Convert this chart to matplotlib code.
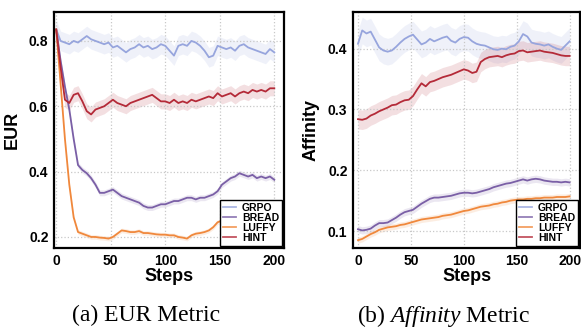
#!/usr/bin/env python3

import numpy as np
import matplotlib
matplotlib.use("Agg")
import matplotlib.pyplot as plt

plt.rcParams['font.family'] = ['Liberation Sans', 'DejaVu Sans']
plt.rcParams['mathtext.fontset'] = 'custom'
plt.rcParams['mathtext.it'] = 'Liberation Serif:italic'
plt.rcParams['mathtext.rm'] = 'Liberation Serif'

# training steps, every 4 steps
steps = list(range(0, 201, 4))
methods = ['GRPO', 'BREAD', 'LUFFY', 'HINT']

# (a) EUR metric
eur_grpo = [0.835, 0.80, 0.795, 0.79, 0.80, 0.795, 0.805, 0.815, 0.805, 0.80,
            0.795, 0.79, 0.795, 0.78, 0.785, 0.775, 0.765, 0.775, 0.78, 0.79,
            0.78, 0.785, 0.775, 0.78, 0.79, 0.785, 0.77, 0.755, 0.785, 0.79,
            0.785, 0.80, 0.795, 0.785, 0.77, 0.75, 0.755, 0.785, 0.78, 0.775,
            0.78, 0.77, 0.785, 0.79, 0.78, 0.775, 0.77, 0.765, 0.76, 0.775, 0.765]
eur_bread = [0.835, 0.74, 0.66, 0.59, 0.50, 0.42, 0.405, 0.395, 0.38, 0.36,
             0.335, 0.335, 0.34, 0.345, 0.335, 0.325, 0.32, 0.315, 0.31, 0.305,
             0.295, 0.29, 0.29, 0.295, 0.30, 0.30, 0.305, 0.31, 0.31, 0.315,
             0.32, 0.32, 0.315, 0.32, 0.32, 0.325, 0.33, 0.34, 0.36, 0.37,
             0.38, 0.385, 0.395, 0.39, 0.385, 0.39, 0.38, 0.385, 0.38, 0.385, 0.375]
eur_luffy = [0.835, 0.67, 0.50, 0.36, 0.26, 0.215, 0.21, 0.205, 0.20, 0.20,
             0.198, 0.197, 0.195, 0.20, 0.21, 0.22, 0.218, 0.215, 0.215, 0.218,
             0.212, 0.212, 0.21, 0.208, 0.207, 0.207, 0.205, 0.205, 0.20, 0.198,
             0.195, 0.205, 0.21, 0.212, 0.215, 0.22, 0.23, 0.245, 0.25, 0.255,
             0.255, 0.26, 0.26, 0.262, 0.265, 0.265, 0.268, 0.268, 0.27, 0.27, 0.272]
eur_hint = [0.835, 0.72, 0.62, 0.61, 0.635, 0.64, 0.615, 0.585, 0.575, 0.59,
            0.595, 0.60, 0.61, 0.62, 0.61, 0.605, 0.60, 0.61, 0.615, 0.62,
            0.625, 0.63, 0.635, 0.625, 0.615, 0.615, 0.61, 0.62, 0.61, 0.615,
            0.61, 0.62, 0.615, 0.62, 0.625, 0.63, 0.625, 0.64, 0.63, 0.635,
            0.64, 0.63, 0.64, 0.645, 0.64, 0.65, 0.645, 0.65, 0.645, 0.655, 0.655]
eur_spread = [0.03, 0.009, 0.007, 0.023]

# (b) Affinity metric
aff_grpo = [0.408, 0.43, 0.425, 0.428, 0.415, 0.402, 0.397, 0.395, 0.397, 0.403,
            0.41, 0.416, 0.42, 0.423, 0.415, 0.407, 0.41, 0.416, 0.412, 0.415,
            0.418, 0.42, 0.413, 0.41, 0.416, 0.419, 0.418, 0.412, 0.408, 0.406,
            0.405, 0.402, 0.399, 0.398, 0.40, 0.399, 0.403, 0.405, 0.412, 0.424,
            0.42, 0.41, 0.408, 0.407, 0.405, 0.407, 0.403, 0.40, 0.398, 0.405, 0.412]
aff_bread = [0.103, 0.101, 0.102, 0.104, 0.109, 0.113, 0.113, 0.114, 0.118, 0.122,
             0.127, 0.131, 0.133, 0.135, 0.140, 0.145, 0.149, 0.153, 0.155, 0.155,
             0.156, 0.157, 0.158, 0.160, 0.162, 0.163, 0.163, 0.162, 0.163, 0.165,
             0.167, 0.169, 0.172, 0.174, 0.176, 0.178, 0.179, 0.181, 0.183, 0.185,
             0.183, 0.185, 0.186, 0.185, 0.183, 0.182, 0.181, 0.181, 0.180, 0.181, 0.180]
aff_luffy = [0.085, 0.087, 0.091, 0.095, 0.098, 0.102, 0.104, 0.106, 0.107, 0.108,
             0.110, 0.111, 0.113, 0.115, 0.117, 0.119, 0.120, 0.121, 0.122, 0.123,
             0.125, 0.126, 0.127, 0.129, 0.131, 0.133, 0.134, 0.136, 0.138, 0.140,
             0.141, 0.142, 0.144, 0.145, 0.147, 0.148, 0.150, 0.151, 0.152, 0.152,
             0.153, 0.153, 0.154, 0.154, 0.155, 0.155, 0.155, 0.156, 0.156, 0.156, 0.157]
aff_hint = [0.284, 0.283, 0.285, 0.29, 0.293, 0.297, 0.30, 0.303, 0.307, 0.308,
            0.312, 0.315, 0.316, 0.322, 0.333, 0.343, 0.338, 0.345, 0.347, 0.35,
            0.353, 0.355, 0.357, 0.36, 0.363, 0.366, 0.364, 0.36, 0.362, 0.378,
            0.383, 0.386, 0.387, 0.388, 0.386, 0.389, 0.391, 0.392, 0.396, 0.397,
            0.394, 0.395, 0.396, 0.397, 0.395, 0.394, 0.393, 0.391, 0.389, 0.388, 0.388]
aff_spread = [0.022, 0.006, 0.005, 0.016]

colors = ['#97a5dd', '#7a5fa6', '#f0883c', '#b42a38']


def draw_panel(ax, series, spread, ylabel, ylim, yticks, xlim):
    x = np.array(steps)
    for name, vals, sd, c in zip(methods, series, spread, colors):
        vals = np.array(vals)
        ax.fill_between(x, vals - sd, vals + sd, color=c, alpha=0.15, lw=0)
        ax.plot(x, vals, color=c, lw=1.3, label=name)
    ax.set_xlim(*xlim)
    ax.set_ylim(*ylim)
    ax.set_xticks([0, 50, 100, 150, 200])
    ax.set_yticks(yticks)
    ax.set_yticklabels([f'{t:.1f}' for t in yticks])
    ax.grid(True, ls=':', color='#c8c8c8', lw=0.9)
    ax.tick_params(length=0, pad=4, labelsize=10)
    for lab in ax.get_xticklabels() + ax.get_yticklabels():
        lab.set_fontweight('bold')
    for sp in ax.spines.values():
        sp.set_linewidth(1.6)
        sp.set_color('black')
    ax.set_xlabel('Steps', fontsize=13, fontweight='bold', labelpad=0)
    ax.set_ylabel(ylabel, fontsize=13, fontweight='bold', labelpad=6)
    leg = ax.legend(loc='lower right', prop={'weight': 'bold', 'size': 7.5},
                    handlelength=1.2, handletextpad=0.6, labelspacing=0.0,
                    borderpad=0.3, borderaxespad=0.2, fancybox=False,
                    edgecolor='black', framealpha=1.0)
    leg.get_frame().set_linewidth(1.0)
    for h in leg.get_lines():
        h.set_alpha(0.8)


fig = plt.figure(figsize=(5.81, 3.29), dpi=100)
ax1 = fig.add_axes([0.093, 0.246, 0.396, 0.717])
ax2 = fig.add_axes([0.6076, 0.246, 0.391, 0.717])

draw_panel(ax1, [eur_grpo, eur_bread, eur_luffy, eur_hint], eur_spread,
           'EUR', (0.166, 0.888), [0.2, 0.4, 0.6, 0.8], (-2, 209))
draw_panel(ax2, [aff_grpo, aff_bread, aff_luffy, aff_hint], aff_spread,
           'Affinity', (0.072, 0.46), [0.1, 0.2, 0.3, 0.4], (-4.7, 210))

fig.text(0.252, 0.04, '(a) EUR Metric', ha='center', va='center',
         fontsize=17, family='Liberation Serif')
fig.text(0.763, 0.04, '(b) $\\mathit{Affinity}$ Metric', ha='center', va='center',
         fontsize=17, family='Liberation Serif')

fig.savefig('out.png', dpi=100)
